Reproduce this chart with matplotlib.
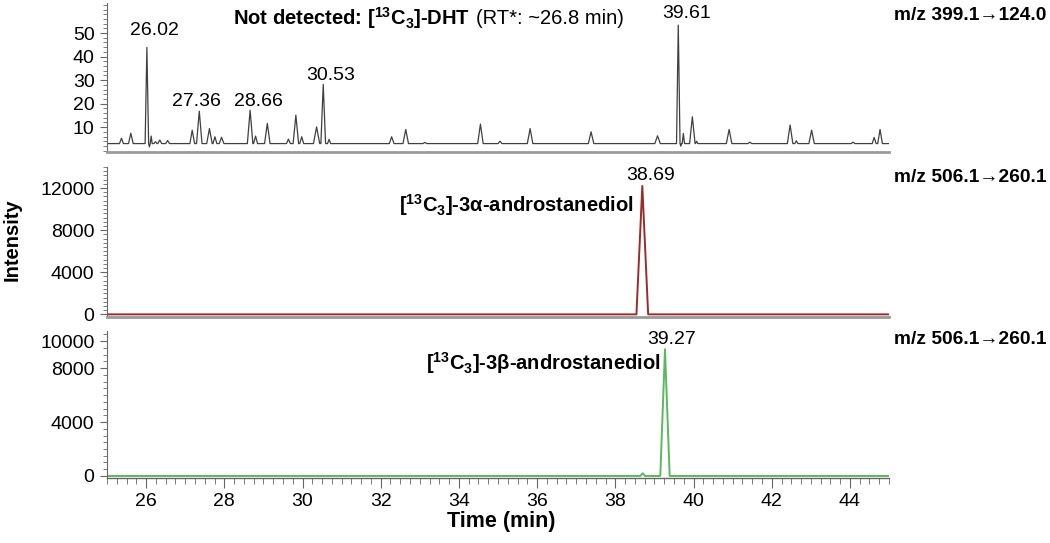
import numpy as np
import matplotlib
matplotlib.use("Agg")
import matplotlib.pyplot as plt
from matplotlib.ticker import MultipleLocator, FixedLocator

plt.rcParams["font.family"] = ["Liberation Sans", "DejaVu Sans"]
plt.rcParams["mathtext.fontset"] = "custom"
plt.rcParams["mathtext.rm"] = "Liberation Sans"
plt.rcParams["mathtext.bf"] = "Liberation Sans:bold"

# --- data -----------------------------------------------------------------
# m/z 399.1 -> 124.0 (DHT channel): retention time, height, half base width
dht_rt = [25.37, 25.61, 26.02, 26.085, 26.13, 26.24, 26.35, 26.55, 27.18, 27.36,
          27.62, 27.76, 27.93, 28.66, 28.80, 29.10, 29.64, 29.83, 29.98, 30.36,
          30.53, 30.68, 32.28, 32.64, 33.13, 34.55, 35.05, 35.82, 37.38, 39.08,
          39.61, 39.675, 39.74, 39.97, 40.08, 40.91, 41.44, 42.47, 42.63, 43.02,
          44.08, 44.62, 44.77]
dht_height = [5.3, 7.4, 43.9, 1.6, 6.2, 3.8, 4.5, 4.3, 8.7, 16.8,
              9.4, 5.9, 5.7, 17.2, 6.2, 11.6, 4.9, 15.1, 5.9, 10.1,
              28.2, 4.8, 5.9, 9.0, 3.5, 11.3, 4.0, 9.4, 8.0, 6.3,
              53.4, 1.9, 7.3, 14.4, 4.0, 9.0, 3.6, 10.9, 4.2, 8.7,
              3.6, 5.6, 9.0]
dht_width = [0.05, 0.06, 0.045, 0.02, 0.025, 0.04, 0.05, 0.05, 0.06, 0.07,
             0.07, 0.05, 0.06, 0.07, 0.05, 0.07, 0.05, 0.07, 0.05, 0.08,
             0.06, 0.04, 0.06, 0.07, 0.05, 0.07, 0.05, 0.07, 0.07, 0.07,
             0.045, 0.02, 0.03, 0.07, 0.03, 0.07, 0.05, 0.07, 0.04, 0.07,
             0.05, 0.05, 0.06]
dht_base = 3.0
dht_labels = ["26.02", "27.36", "28.66", "30.53", "39.61"]

# m/z 506.1 -> 260.1, 3alpha-androstanediol
alpha_rt = [38.69]
alpha_height = [12200]
alpha_width = [0.15]

# m/z 506.1 -> 260.1, 3beta-androstanediol
beta_rt = [38.70, 39.27]
beta_height = [200, 9400]
beta_width = [0.06, 0.12]

t_start, t_end = 25.0, 45.0


def trace(rts, heights, widths, base):
    # polyline through the start, apex and end of every peak
    xs, ys = [t_start], [base]
    for rt, h, w in sorted(zip(rts, heights, widths)):
        xs += [rt - w, rt, rt + w]
        ys += [base, h, base]
    xs.append(t_end)
    ys.append(base)
    return np.array(xs), np.array(ys)


fig = plt.figure(figsize=(10.5, 5.43), dpi=100)
L, R = 0.1019, 0.8467
ax1 = fig.add_axes([L, 0.720, R - L, 0.9945 - 0.720])
ax2 = fig.add_axes([L, 0.4162, R - L, 0.6924 - 0.4162])
ax3 = fig.add_axes([L, 0.1197, R - L, 0.3904 - 0.1197])

spine_col = "#666666"
for ax in (ax1, ax2, ax3):
    ax.set_xlim(t_start, t_end)
    for s in ("top", "right"):
        ax.spines[s].set_visible(False)
    ax.spines["left"].set_color(spine_col)
    ax.spines["bottom"].set_color("#9a9a9a")
    ax.spines["bottom"].set_linewidth(2)
    ax.tick_params(axis="y", which="both", direction="out", color=spine_col,
                   labelsize=14, pad=4)
    ax.tick_params(axis="y", which="major", length=5)
    ax.tick_params(axis="y", which="minor", length=3)
    ax.patch.set_alpha(0)

for ax in (ax1, ax2):
    ax.tick_params(axis="x", which="both", bottom=False, labelbottom=False)

# panel 1
x, y = trace(dht_rt, dht_height, dht_width, dht_base)
ax1.plot(x, y, color="#404040", lw=0.9)
ax1.set_ylim(-0.6, 62.8)
ax1.yaxis.set_major_locator(FixedLocator([10, 20, 30, 40, 50]))
ax1.yaxis.set_minor_locator(MultipleLocator(2))
label_pos = [(26.22, 51.0), (27.29, 21.0), (28.87, 21.0), (30.72, 32.1), (39.81, 58.4)]
for txt, (lx, ly) in zip(dht_labels, label_pos):
    ax1.text(lx, ly, txt, ha="center", va="center", fontsize=14)
ax1.text(28.22, 56.4, r"Not detected: [$\mathbf{^{13}}$C$\mathbf{_3}$]-DHT",
         ha="left", va="center", fontsize=14.5, fontweight="bold")
ax1.text(34.44, 56.4, "(RT*: ~26.8 min)", ha="left", va="center", fontsize=14.5)

# panel 2
x, y = trace(alpha_rt, alpha_height, alpha_width, 0)
ax2.plot(x, y, color="#9b2a2a", lw=1.4)
ax2.set_ylim(-250, 14000)
ax2.yaxis.set_major_locator(FixedLocator([0, 4000, 8000, 12000]))
ax2.yaxis.set_minor_locator(MultipleLocator(400))
ax2.text(38.91, 13160, "38.69", ha="center", va="center", fontsize=14)
ax2.text(38.48, 10400, r"[$\mathbf{^{13}}$C$\mathbf{_3}$]-3α-androstanediol",
         ha="right", va="center", fontsize=14.5, fontweight="bold")

# panel 3
x, y = trace(beta_rt, beta_height, beta_width, 0)
ax3.plot(x, y, color="#5cb85c", lw=1.4)
ax3.set_ylim(-150, 10750)
ax3.yaxis.set_major_locator(FixedLocator([0, 4000, 8000, 10000]))
ax3.yaxis.set_minor_locator(MultipleLocator(500))
ax3.spines["bottom"].set_color(spine_col)
ax3.spines["bottom"].set_linewidth(1)
ax3.xaxis.set_major_locator(MultipleLocator(2))
ax3.xaxis.set_minor_locator(MultipleLocator(0.25))
ax3.tick_params(axis="x", which="both", direction="out", color=spine_col,
                labelsize=14, pad=4)
ax3.tick_params(axis="x", which="major", length=7)
ax3.tick_params(axis="x", which="minor", length=4)
ax3.set_xticks([26, 28, 30, 32, 34, 36, 38, 40, 42, 44])
ax3.text(39.45, 10150, "39.27", ha="center", va="center", fontsize=14)
ax3.text(39.16, 8400, r"[$\mathbf{^{13}}$C$\mathbf{_3}$]-3β-androstanediol",
         ha="right", va="center", fontsize=14.5, fontweight="bold")

# channel labels and axis titles
for ytxt, lab in [(0.972, "m/z 399.1→124.0"), (0.674, "m/z 506.1→260.1"),
                  (0.374, "m/z 506.1→260.1")]:
    fig.text(0.851, ytxt, lab, ha="left", va="center", fontsize=13.8,
             fontweight="bold")
fig.text(0.0114, 0.558, "Intensity", rotation=90, ha="center", va="center",
         fontsize=14.5, fontweight="bold")
fig.text(0.477, 0.039, "Time (min)", ha="center", va="center",
         fontsize=15.5, fontweight="bold")

fig.savefig("out.png", dpi=100)
